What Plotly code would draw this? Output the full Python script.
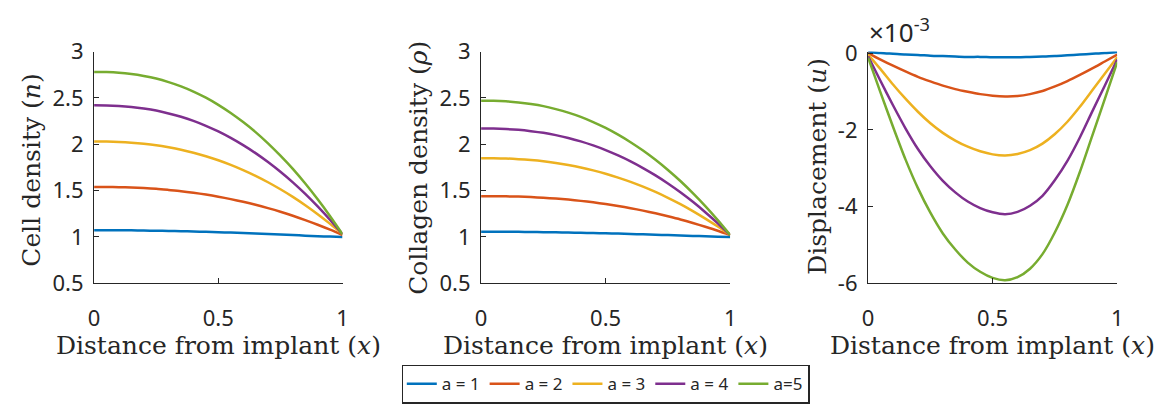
import plotly.graph_objects as go

# ---------------- data ----------------
x_vals = [0.0, 0.05, 0.1, 0.15, 0.2, 0.25, 0.3, 0.35, 0.4, 0.45, 0.5,
          0.55, 0.6, 0.65, 0.7, 0.75, 0.8, 0.85, 0.9, 0.95, 1.0]

series_names = ["a = 1", "a = 2", "a = 3", "a = 4", "a=5"]
colors = ["#0072BD", "#D95319", "#EDB120", "#7E2F8E", "#77AC30"]

# Cell density n
n_a1 = [1.073, 1.073, 1.072, 1.071, 1.069, 1.067, 1.065, 1.062, 1.059, 1.055, 1.051,
        1.047, 1.042, 1.037, 1.032, 1.026, 1.020, 1.014, 1.008, 1.004, 1.0]
n_a2 = [1.54, 1.539, 1.537, 1.533, 1.527, 1.519, 1.507, 1.494, 1.477, 1.457, 1.434,
        1.408, 1.379, 1.347, 1.311, 1.272, 1.229, 1.182, 1.132, 1.078, 1.02]
n_a3 = [2.03, 2.029, 2.025, 2.017, 2.005, 1.989, 1.967, 1.941, 1.909, 1.871, 1.827,
        1.777, 1.721, 1.659, 1.590, 1.514, 1.432, 1.342, 1.245, 1.141, 1.03]
n_a4 = [2.42, 2.419, 2.413, 2.402, 2.385, 2.363, 2.332, 2.296, 2.252, 2.199, 2.138,
        2.068, 1.990, 1.904, 1.808, 1.703, 1.589, 1.464, 1.329, 1.184, 1.03]
n_a5 = [2.78, 2.778, 2.771, 2.757, 2.736, 2.708, 2.670, 2.624, 2.568, 2.502, 2.425,
        2.337, 2.239, 2.131, 2.010, 1.877, 1.734, 1.576, 1.406, 1.224, 1.03]

# Collagen density rho
rho_a1 = [1.057, 1.057, 1.056, 1.055, 1.054, 1.052, 1.050, 1.048, 1.045, 1.042, 1.039,
          1.036, 1.032, 1.028, 1.024, 1.020, 1.016, 1.011, 1.007, 1.003, 1.0]
rho_a2 = [1.44, 1.440, 1.438, 1.435, 1.430, 1.423, 1.414, 1.403, 1.389, 1.373, 1.355,
          1.334, 1.310, 1.284, 1.255, 1.223, 1.189, 1.151, 1.110, 1.067, 1.02]
rho_a3 = [1.85, 1.849, 1.846, 1.839, 1.829, 1.816, 1.798, 1.776, 1.750, 1.718, 1.682,
          1.640, 1.594, 1.542, 1.485, 1.422, 1.354, 1.279, 1.198, 1.112, 1.02]
rho_a4 = [2.17, 2.169, 2.164, 2.155, 2.141, 2.123, 2.098, 2.068, 2.031, 1.987, 1.937,
          1.879, 1.815, 1.743, 1.664, 1.577, 1.482, 1.379, 1.267, 1.148, 1.02]
rho_a5 = [2.47, 2.469, 2.463, 2.451, 2.434, 2.411, 2.379, 2.341, 2.295, 2.239, 2.176,
          2.103, 2.022, 1.932, 1.832, 1.722, 1.603, 1.472, 1.332, 1.181, 1.02]

# Displacement u (in units of 1e-3)
u_a1 = [0.03, 0.0, -0.02, -0.04, -0.05, -0.07, -0.08, -0.09, -0.10, -0.10, -0.11,
        -0.11, -0.11, -0.10, -0.09, -0.08, -0.06, -0.04, -0.02, 0.0, 0.03]
u_a2 = [0.0, -0.17, -0.33, -0.48, -0.62, -0.74, -0.85, -0.94, -1.01, -1.07, -1.11,
        -1.13, -1.12, -1.07, -0.99, -0.87, -0.73, -0.57, -0.40, -0.22, -0.04]
u_a3 = [-0.04, -0.42, -0.82, -1.19, -1.53, -1.83, -2.08, -2.28, -2.44, -2.56, -2.64,
        -2.67, -2.63, -2.53, -2.36, -2.11, -1.79, -1.40, -0.97, -0.54, -0.11]
u_a4 = [-0.085, -0.73, -1.36, -1.96, -2.50, -2.95, -3.33, -3.63, -3.87, -4.04, -4.15,
        -4.20, -4.14, -3.98, -3.72, -3.31, -2.81, -2.20, -1.52, -0.85, -0.17]
u_a5 = [-0.12, -1.03, -1.92, -2.77, -3.52, -4.16, -4.70, -5.12, -5.46, -5.70, -5.86,
        -5.92, -5.84, -5.62, -5.24, -4.67, -3.96, -3.10, -2.15, -1.20, -0.24]

x_ticks = [0, 0.5, 1]
x_tick_labels = ["0", "0.5", "1"]
dens_ticks = [0.5, 1, 1.5, 2, 2.5, 3]
dens_tick_labels = ["0.5", "1", "1.5", "2", "2.5", "3"]
disp_ticks = [-6, -4, -2, 0]
disp_tick_labels = ["-6", "-4", "-2", "0"]

n_series = [n_a1, n_a2, n_a3, n_a4, n_a5]
rho_series = [rho_a1, rho_a2, rho_a3, rho_a4, rho_a5]
u_series = [u_a1, u_a2, u_a3, u_a4, u_a5]

# ---------------- figure ----------------
W, H = 1173, 412
fig = go.Figure()

line_w = 2.5
for panel, (data, xa, ya) in enumerate([(n_series, "x", "y"), (rho_series, "x2", "y2"), (u_series, "x3", "y3")]):
    for i in range(5):
        fig.add_trace(go.Scatter(x=x_vals, y=data[i], mode="lines",
                                 line=dict(color=colors[i], width=line_w, shape="spline", smoothing=0.8),
                                 name=series_names[i], legendgroup=series_names[i], xaxis=xa, yaxis=ya,
                                 showlegend=(panel == 0)))

sans = "Noto Sans"
serif = "DejaVu Serif"
axcol = "#262626"


def px(v):
    return v / W


def py(v):
    return 1 - v / H


ydom = [py(288.3), py(38.3)]
xdoms = [[px(89), px(340)], [px(480), px(731.7)], [px(871), px(1122.7)]]

common_x = dict(range=[0, 1], tickvals=x_ticks, ticktext=x_tick_labels, showline=True, linecolor=axcol, linewidth=1.3,
                ticks="inside", ticklen=5, tickcolor=axcol, tickwidth=1.3, showgrid=False, zeroline=False,
                tickfont=dict(family=sans, size=22, color=axcol), ticklabelstandoff=15)
common_y = dict(showline=True, linecolor=axcol, linewidth=1.3, ticks="inside", ticklen=5, tickcolor=axcol, tickwidth=1.3,
                showgrid=False, zeroline=False, tickfont=dict(family=sans, size=22, color=axcol), ticklabelstandoff=5)

layout = dict(width=W, height=H, margin=dict(l=0, r=0, t=0, b=0), paper_bgcolor="white", plot_bgcolor="white",
              showlegend=True)
for k, suffix in enumerate(["", "2", "3"]):
    layout["xaxis" + suffix] = dict(common_x, domain=xdoms[k], anchor="y" + suffix)
layout["yaxis"] = dict(common_y, domain=ydom, anchor="x", range=[0.5, 3], tickvals=dens_ticks, ticktext=dens_tick_labels)
layout["yaxis2"] = dict(common_y, domain=ydom, anchor="x2", range=[0.5, 3], tickvals=dens_ticks, ticktext=dens_tick_labels)
layout["yaxis3"] = dict(common_y, domain=ydom, anchor="x3", range=[-6, 0.04], tickvals=disp_ticks, ticktext=disp_tick_labels)

layout["legend"] = dict(orientation="h", x=px(606), y=py(397), xanchor="center", yanchor="middle",
                        bordercolor="#262626", borderwidth=1.5, bgcolor="white",
                        font=dict(family=sans, size=17, color="#262626"), tracegroupgap=0)

fig.update_layout(**layout)

title_font = dict(family=serif, size=25, color="#262626")
xcenters = [(89 + 340) / 2, (480 + 731.7) / 2, (871 + 1122.7) / 2]
for c in xcenters:
    fig.add_annotation(text="Distance from implant (<i>x</i>)", x=px(c), y=py(355), xref="paper", yref="paper",
                       showarrow=False, font=title_font, xanchor="center", yanchor="middle")

ytitles = [("Cell density (<i>n</i>)", 26, 166), ("Collagen density (<i>ρ</i>)", 416, 164),
           ("Displacement (<i>u</i>)", 820, 162)]
for t, xc, yc in ytitles:
    fig.add_annotation(text=t, x=px(xc), y=py(yc), xref="paper", yref="paper", showarrow=False, font=title_font,
                       textangle=-90, xanchor="center", yanchor="middle")

fig.add_annotation(text="×10<sup>-3</sup>", x=px(870), y=py(16), xref="paper", yref="paper", showarrow=False,
                   font=dict(family=sans, size=26, color=axcol), xanchor="left", yanchor="middle")

fig.write_html("out.html")
